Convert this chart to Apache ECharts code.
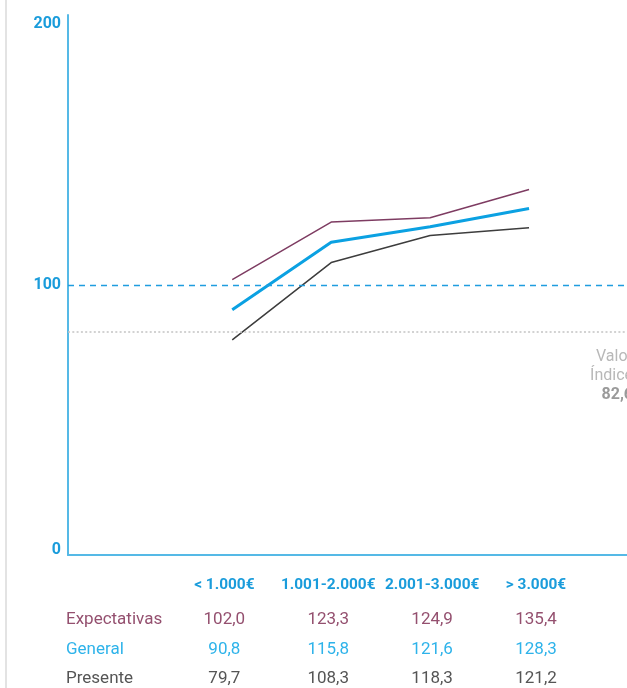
<!DOCTYPE html>
<html>
<head>
<meta charset="utf-8">
<script src="https://cdn.jsdelivr.net/npm/echarts@6/dist/echarts.min.js"></script>
<style>
  html, body { margin: 0; padding: 0; background: #fff; }
  #chart { width: 627px; height: 688px; }
</style>
</head>
<body>
<div id="chart"></div>
<script>
// Income brackets and index values per group
const categories = ['< 1.000€', '1.001-2.000€', '2.001-3.000€', '> 3.000€'];
const expectativas = [102.0, 123.3, 124.9, 135.4];
const general = [90.8, 115.8, 121.6, 128.3];
const presente = [79.7, 108.3, 118.3, 121.2];
const rowNames = ['Expectativas', 'General', 'Presente'];
const baseValue = 100;
const indexValue = 82.6;
const yTicks = [0, 100, 200];

const fmt = v => v.toFixed(1).replace('.', ',');
const pts = arr => arr.map((v, i) => [i, v]);
const idx = categories.map((_, i) => i);

const FONT = 'Roboto, "Noto Sans", sans-serif';
const BLUE = '#1a9cdb';
const AXIS_BLUE = '#55b9e6';
const C_EXP = '#7e3c62';
const C_GEN = '#0ba1e2';
const C_PRE = '#3d3d3d';
const T_EXP = '#94506f';
const T_GEN = '#2eb3ea';
const T_PRE = '#555555';

// hidden helper axes carrying the column labels and the value table
function tableAxis(offset, values, color, name) {
  return {
    type: 'value', position: 'bottom', offset: offset,
    min: -1.505, max: 3.876,
    axisLine: { show: false }, axisTick: { show: false }, splitLine: { show: false },
    axisLabel: {
      customValues: idx, margin: 0, verticalAlign: 'middle',
      color: color, fontFamily: FONT, fontSize: 17,
      formatter: (v) => values[Math.round(v)]
    },
    name: name || '', nameLocation: 'start', nameGap: 2,
    nameTextStyle: { align: 'left', verticalAlign: 'middle', color: color, fontFamily: FONT, fontSize: 17 }
  };
}

const chart = echarts.init(document.getElementById('chart'), null, { renderer: 'canvas' });
chart.setOption({
  animation: false,
  grid: { left: 68, right: -6, top: 15, bottom: 133, containLabel: false },
  graphic: [{ type: 'rect', shape: { x: 5, y: 0, width: 2, height: 688 }, style: { fill: '#e3e3e3' }, silent: true }],
  xAxis: [
    {
      type: 'value', position: 'bottom', min: -1.66, max: 3.99,
      axisLine: { show: true, onZero: false, lineStyle: { color: AXIS_BLUE, width: 2 } },
      axisTick: { show: false }, axisLabel: { show: false }, splitLine: { show: false }
    },
    {
      type: 'value', position: 'bottom', offset: 0, min: -1.505, max: 3.876,
      axisLine: { show: false }, axisTick: { show: false }, splitLine: { show: false },
      axisLabel: {
        customValues: idx, margin: 30, verticalAlign: 'middle',
        color: BLUE, fontFamily: FONT, fontSize: 15.4, fontWeight: 'bold',
        formatter: (v) => categories[Math.round(v)]
      }
    },
    tableAxis(65, expectativas.map(fmt), T_EXP, rowNames[0]),
    tableAxis(95, general.map(fmt), T_GEN, rowNames[1]),
    tableAxis(124, presente.map(fmt), T_PRE, rowNames[2])
  ],
  yAxis: {
    type: 'value', min: 0, max: 200, interval: 100,
    axisLine: { show: true, onZero: false, lineStyle: { color: AXIS_BLUE, width: 2 } },
    axisTick: { show: false }, splitLine: { show: false },
    axisLabel: {
      margin: 7, color: BLUE, fontFamily: FONT, fontSize: 16, fontWeight: 'bold',
      formatter: (v) => v === yTicks[2] ? '{t|' + v + '}' : (v === yTicks[0] ? '{b|' + v + '}' : '{m|' + v + '}'),
      rich: {
        t: { padding: [18, 0, 0, 0], color: BLUE, fontFamily: FONT, fontSize: 16, fontWeight: 'bold' },
        b: { padding: [0, 0, 10, 0], color: BLUE, fontFamily: FONT, fontSize: 16, fontWeight: 'bold' },
        m: { color: BLUE, fontFamily: FONT, fontSize: 16, fontWeight: 'bold' }
      }
    }
  },
  series: [
    {
      type: 'line', data: [], silent: true,
      markLine: {
        symbol: 'none', silent: true,
        lineStyle: { type: [6, 5], color: '#1f9ddf', width: 1.3 },
        label: { show: false },
        data: [{ yAxis: baseValue }]
      }
    },
    {
      type: 'line', data: [], silent: true,
      markLine: {
        symbol: 'none', silent: true,
        lineStyle: { type: [2, 2.3], color: '#c4c4c4', width: 1.5 },
        label: {
          show: true, position: 'insideEndBottom', distance: [-6, 16],
          formatter: '{a|Valor}\n{a|Índice}\n{b|' + fmt(indexValue) + '}',
          rich: {
            a: { color: '#b8b8b8', fontFamily: FONT, fontSize: 16, lineHeight: 19, align: 'right' },
            b: { color: '#9a9a9a', fontFamily: FONT, fontSize: 16, fontWeight: 'bold', lineHeight: 19, align: 'right' }
          }
        },
        data: [{ yAxis: indexValue }]
      }
    },
    { name: rowNames[0], type: 'line', data: pts(expectativas), showSymbol: false, lineStyle: { color: C_EXP, width: 1.5 } },
    { name: rowNames[1], type: 'line', data: pts(general), showSymbol: false, lineStyle: { color: C_GEN, width: 3 } },
    { name: rowNames[2], type: 'line', data: pts(presente), showSymbol: false, lineStyle: { color: C_PRE, width: 1.5 } }
  ]
});
</script>
</body>
</html>
